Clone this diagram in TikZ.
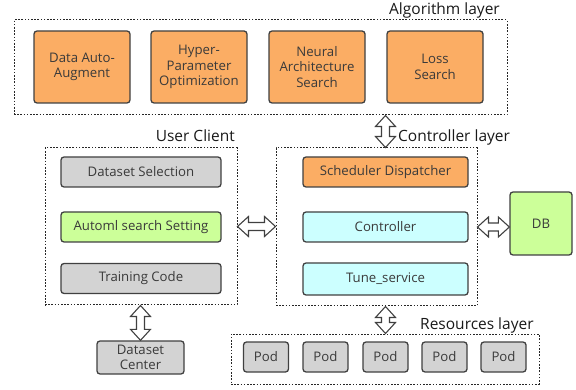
\documentclass[tikz,border=0pt]{standalone}
\usepackage{fontspec}
\setmainfont{Open Sans}
\usetikzlibrary{calc}

\definecolor{algorange}{HTML}{FBAD64}
\definecolor{usergray}{HTML}{D3D3D3}
\definecolor{setgreen}{HTML}{CCFF99}
\definecolor{ctlcyan}{HTML}{CCFFFF}
\definecolor{edgegray}{HTML}{404040}
\definecolor{textgray}{HTML}{3A3A3A}

\tikzset{
  box/.style={draw=edgegray,line width=1.3pt,rounded corners=3pt,inner sep=0pt,
    align=center,text=textgray,font=\fontsize{13.2}{15.5}\selectfont},
  layerbox/.style={draw=black!85,line width=1pt,dash pattern=on 1.6pt off 1.6pt,inner sep=0pt},
  layertitle/.style={font=\fontsize{15.5}{16}\selectfont,text=black!90,inner sep=0pt},
  blockarrow/.style={draw=edgegray,fill=white,line width=1.1pt,line join=miter,
    to path={let \p1=(\tikztostart),\p2=(\tikztotarget),
      \n1={atan2(\y2-\y1,\x2-\x1)},\n2={\n1+90} in
      (\p1) -- ($(\p1)+(\n1:11pt)+(\n2:10pt)$) -- ($(\p1)+(\n1:11pt)+(\n2:4pt)$)
      -- ($(\p2)-(\n1:11pt)+(\n2:4pt)$) -- ($(\p2)-(\n1:11pt)+(\n2:10pt)$) -- (\p2)
      -- ($(\p2)-(\n1:11pt)-(\n2:10pt)$) -- ($(\p2)-(\n1:11pt)-(\n2:4pt)$)
      -- ($(\p1)+(\n1:11pt)-(\n2:4pt)$) -- ($(\p1)+(\n1:11pt)-(\n2:10pt)$) -- cycle}}
}

\begin{document}
\begin{tikzpicture}[x=1pt,y=-1pt]
    \useasboundingbox (0,0) rectangle (576,390);

    % Algorithm layer
    \node[layerbox,minimum width=493,minimum height=95] (alg) at (260.5,67.5) {};
    \node[layertitle,anchor=base east] (algt) at (500,15) {Algorithm layer};
    \node[box,fill=algorange,minimum width=96,minimum height=72] (daa) at (82,67) {Data Auto-\\Augment};
    \node[box,fill=algorange,minimum width=96,minimum height=72] (hpo) at (199,67) {Hyper-\\Parameter\\Optimization};
    \node[box,fill=algorange,minimum width=96,minimum height=72] (nas) at (317,67) {Neural\\Architecture\\Search};
    \node[box,fill=algorange,minimum width=96,minimum height=72] (loss) at (435,67) {Loss\\Search};

    % User client
    \node[layerbox,minimum width=192,minimum height=157] (usr) at (141,226.5) {};
    \node[layertitle,anchor=base east] (usrt) at (235,142) {User Client};
    \node[box,fill=usergray,minimum width=160,minimum height=30] (dsel) at (141,172) {Dataset Selection};
    \node[box,fill=setgreen,minimum width=160,minimum height=30] (aset) at (141,227) {Automl search Setting};
    \node[box,fill=usergray,minimum width=160,minimum height=30] (tcode) at (141,278.5) {Training Code};
    \node[box,fill=usergray,minimum width=87,minimum height=33] (dsc) at (140.5,357.5) {Dataset\\Center};

    % Controller layer
    \node[layerbox,minimum width=201,minimum height=158] (ctl) at (376.5,227) {};
    \node[layertitle,anchor=base west] (ctlt) at (398,142) {Controller layer};
    \node[box,fill=algorange,minimum width=165,minimum height=30] (sch) at (385.5,172) {Scheduler Dispatcher};
    \node[box,fill=ctlcyan,minimum width=165,minimum height=30] (con) at (385.5,227) {Controller};
    \node[box,fill=ctlcyan,minimum width=165,minimum height=32] (tune) at (385.5,279) {Tune\_service};
    \node[box,fill=setgreen,minimum width=62,minimum height=63] (db) at (541,223.5) {DB};

    % Resources layer
    \node[layerbox,minimum width=308,minimum height=50] (res) at (385,359) {};
    \node[layertitle,anchor=base west] (rest) at (420,329) {Resources layer};
    \foreach \x [count=\i] in {266,325.5,385.5,444.5,503.5}
      \node[box,fill=usergray,minimum width=45,minimum height=30] (pod\i) at (\x,357) {Pod};

    % Connections between the layers
    \draw[blockarrow] (sch.north |- alg.south) to (sch.north |- ctl.north);
    \draw[blockarrow] (usr.east) to (usr.east -| ctl.west);
    \draw[blockarrow] (ctl.east |- con) to (db.west |- con);
    \draw[blockarrow] (sch.north |- ctl.south) to (sch.north |- res.north);
    \draw[blockarrow] (dsc.north |- usr.south) to (dsc.north);
\end{tikzpicture}
\end{document}
